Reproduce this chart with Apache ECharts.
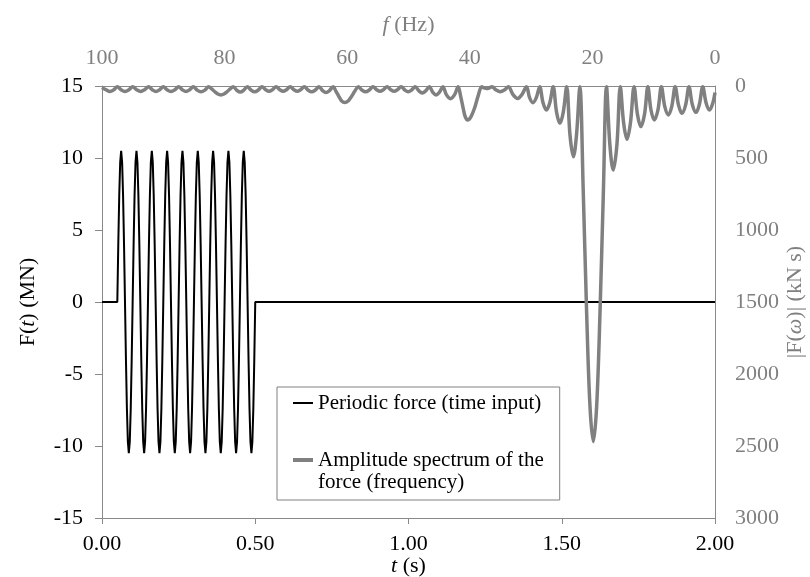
<!DOCTYPE html>
<html><head><meta charset="utf-8">
<script src="https://cdn.jsdelivr.net/npm/echarts@6/dist/echarts.min.js"></script>
<style>html,body{margin:0;padding:0;background:#fff}#c{width:810px;height:577px}</style>
</head><body><div id="c"></div>
<script>
// Time input: periodic force F(t) in MN
const timeS = [0,
 0.05,0.053125,0.05625,0.059375,0.0625,0.065625,0.06875,0.071875,0.075,0.078125,0.08125,0.084375,0.0875,0.090625,0.09375,0.096875,
 0.1,0.103125,0.10625,0.109375,0.1125,0.115625,0.11875,0.121875,0.125,0.128125,0.13125,0.134375,0.1375,0.140625,0.14375,0.146875,
 0.15,0.153125,0.15625,0.159375,0.1625,0.165625,0.16875,0.171875,0.175,0.178125,0.18125,0.184375,0.1875,0.190625,0.19375,0.196875,
 0.2,0.203125,0.20625,0.209375,0.2125,0.215625,0.21875,0.221875,0.225,0.228125,0.23125,0.234375,0.2375,0.240625,0.24375,0.246875,
 0.25,0.253125,0.25625,0.259375,0.2625,0.265625,0.26875,0.271875,0.275,0.278125,0.28125,0.284375,0.2875,0.290625,0.29375,0.296875,
 0.3,0.303125,0.30625,0.309375,0.3125,0.315625,0.31875,0.321875,0.325,0.328125,0.33125,0.334375,0.3375,0.340625,0.34375,0.346875,
 0.35,0.353125,0.35625,0.359375,0.3625,0.365625,0.36875,0.371875,0.375,0.378125,0.38125,0.384375,0.3875,0.390625,0.39375,0.396875,
 0.4,0.403125,0.40625,0.409375,0.4125,0.415625,0.41875,0.421875,0.425,0.428125,0.43125,0.434375,0.4375,0.440625,0.44375,0.446875,
 0.45,0.453125,0.45625,0.459375,0.4625,0.465625,0.46875,0.471875,0.475,0.478125,0.48125,0.484375,0.4875,0.490625,0.49375,0.496875,
 0.5, 2];
const forceMN = [0,
 0,4.0,7.4,9.7,10.5,9.7,7.4,4.0,0,-4.0,-7.4,-9.7,-10.5,-9.7,-7.4,-4.0,
 0,4.0,7.4,9.7,10.5,9.7,7.4,4.0,0,-4.0,-7.4,-9.7,-10.5,-9.7,-7.4,-4.0,
 0,4.0,7.4,9.7,10.5,9.7,7.4,4.0,0,-4.0,-7.4,-9.7,-10.5,-9.7,-7.4,-4.0,
 0,4.0,7.4,9.7,10.5,9.7,7.4,4.0,0,-4.0,-7.4,-9.7,-10.5,-9.7,-7.4,-4.0,
 0,4.0,7.4,9.7,10.5,9.7,7.4,4.0,0,-4.0,-7.4,-9.7,-10.5,-9.7,-7.4,-4.0,
 0,4.0,7.4,9.7,10.5,9.7,7.4,4.0,0,-4.0,-7.4,-9.7,-10.5,-9.7,-7.4,-4.0,
 0,4.0,7.4,9.7,10.5,9.7,7.4,4.0,0,-4.0,-7.4,-9.7,-10.5,-9.7,-7.4,-4.0,
 0,4.0,7.4,9.7,10.5,9.7,7.4,4.0,0,-4.0,-7.4,-9.7,-10.5,-9.7,-7.4,-4.0,
 0,4.0,7.4,9.7,10.5,9.7,7.4,4.0,0,-4.0,-7.4,-9.7,-10.5,-9.7,-7.4,-4.0,
 0, 0];

// Frequency output: amplitude spectrum |F(w)| in kN s, [f (Hz), value]
const spectrum = [
 [0,45],[0.35,118],[0.9,167],[1.45,118],[2.0,5],
 [2.55,128],[3.1,183],[3.7,128],[4.25,5],
 [4.8,133],[5.4,190],[5.95,133],[6.5,5],
 [7.05,141],[7.6,201],[8.2,141],[8.75,5],
 [9.3,165],[9.9,236],[10.45,165],[10.95,5],
 [11.5,197],[12.1,282],[12.65,197],[13.2,5],
 [13.8,259],[14.35,370],[14.9,259],[15.45,5],
 [16.0,408],[16.6,583],[17.15,408],[17.7,5],
 [18.2,720],[18.75,1560],[19.3,2220],[19.85,2470],[20.4,2220],[20.95,1560],[21.5,720],[22.05,5],
 [22.6,344],[23.1,491],[23.65,344],[24.2,5],
 [24.75,181],[25.3,259],[25.85,181],[26.4,5],
 [26.95,117],[27.5,167],[28.05,117],[28.6,5],
 [29.15,81],[29.7,116],[30.25,81],[30.75,5],
 [31.5,60],[32.2,86],[32.95,60],[33.7,5],
 [34.35,28],[35.05,40],[35.7,28],[36.4,5],
 [36.8,13],[37.25,18],[37.7,13],[38.05,5],
 [38.65,70],[39.2,150],[39.8,212],[40.35,236],[40.75,212],[41.1,150],[41.5,70],[41.9,5],
 [42.5,62],[43.15,88],[43.8,62],[44.4,5],
 [44.95,43],[45.5,62],[46.05,43],[46.6,5],
 [47.2,34],[47.75,48],[48.3,34],[48.9,5],
 [49.5,28],[50.05,40],[50.6,28],[51.2,5],
 [51.8,26],[52.35,37],[52.9,26],[53.5,5],
 [54.1,26],[54.65,37],[55.2,26],[55.8,5],
 [56.4,28],[57.0,40],[57.6,28],[58.2,5],
 [58.75,35],[59.3,73],[59.85,104],[60.4,115],[60.9,104],[61.35,73],[61.85,35],[62.3,5],
 [62.9,32],[63.45,45],[64.0,32],[64.6,5],
 [65.2,28],[65.8,40],[66.4,28],[67.0,5],
 [67.6,26],[68.15,37],[68.7,26],[69.3,5],
 [69.9,26],[70.45,37],[71.0,26],[71.6,5],
 [72.2,26],[72.75,37],[73.3,26],[73.9,5],
 [74.5,28],[75.1,40],[75.7,28],[76.3,5],
 [76.9,30],[77.45,42],[78.0,30],[78.6,5],
 [79.1,20],[79.6,40],[80.1,56],[80.6,62],[81.1,56],[81.6,40],[82.1,20],[82.6,5],
 [83.2,28],[83.85,40],[84.5,28],[85.1,5],
 [85.7,26],[86.3,38],[86.9,26],[87.5,5],
 [88.1,26],[88.75,38],[89.4,26],[90.0,5],
 [90.6,26],[91.2,38],[91.8,26],[92.4,5],
 [93.05,26],[93.7,38],[94.35,26],[95.0,5],
 [95.6,26],[96.25,38],[96.9,26],[97.5,5],
 [98.1,27],[98.7,38],[99.3,27],[100,10]
];

const seriesNames = ['Periodic force (time input)', 'Amplitude spectrum of the force (frequency)'];
const legendLabels = ['Periodic force (time input)', '\nAmplitude spectrum of the\nforce (frequency)'];
const timeRange = [0, 2, 0.5];
const forceRange = [-15, 15, 5];
const freqRange = [0, 100, 20];
const ampRange = [0, 3000, 500];

const FONT = '"Liberation Serif", "Times New Roman", serif';
const GRAY = '#808080';
const AXIS = '#898989';

function nameStyle(color) {
  return {fontFamily: FONT, fontSize: 22, color: color,
    rich: {i: {fontFamily: FONT, fontSize: 22, fontStyle: 'italic', color: color}}};
}

const chart = echarts.init(document.getElementById('c'), null, {renderer: 'canvas'});
chart.setOption({
  animation: false,
  backgroundColor: '#fff',
  grid: {left: 102, right: 95, top: 86, bottom: 59, containLabel: false, outerBoundsMode: 'none'},
  legend: {
    orient: 'vertical', left: 277, top: 387,
    padding: [5, 16, 7, 16], itemGap: 13, itemWidth: 20, itemHeight: 10,
    borderColor: GRAY, borderWidth: 1, backgroundColor: '#fff', borderRadius: 0,
    selectedMode: false, symbolKeepAspect: true,
    textStyle: {fontFamily: FONT, fontSize: 21, color: '#000', lineHeight: 22},
    data: [
      {name: seriesNames[0], icon: 'path://M0,0L20,0L20,2L0,2Z'},
      {name: seriesNames[1], icon: 'path://M0,0L20,0L20,4L0,4Z'}
    ],
    formatter: function (n) { return legendLabels[seriesNames.indexOf(n)]; }
  },
  xAxis: [
    {type: 'value', position: 'bottom', min: timeRange[0], max: timeRange[1], interval: timeRange[2],
     name: '{i|t} (s)', nameLocation: 'middle', nameGap: 37, nameMoveOverlap: false, nameTextStyle: nameStyle('#000'),
     axisLine: {show: true, onZero: false, lineStyle: {color: AXIS, width: 1}},
     axisTick: {show: true, inside: false, length: 6, lineStyle: {color: AXIS}},
     axisLabel: {fontFamily: FONT, fontSize: 22, color: '#000', margin: 15, showMinLabel: true, showMaxLabel: true,
       formatter: function (v) { return v.toFixed(2); }},
     splitLine: {show: false}},
    {type: 'value', position: 'top', min: freqRange[0], max: freqRange[1], interval: freqRange[2], inverse: true,
     name: '{i|f} (Hz)', nameLocation: 'middle', nameGap: 50, nameMoveOverlap: false, nameTextStyle: nameStyle(GRAY),
     axisLine: {show: true, onZero: false, lineStyle: {color: AXIS, width: 1}},
     axisTick: {show: false},
     axisLabel: {fontFamily: FONT, fontSize: 22, color: GRAY, margin: 17, showMinLabel: true, showMaxLabel: true,
       formatter: function (v) { return String(v); }},
     splitLine: {show: false}}
  ],
  yAxis: [
    {type: 'value', position: 'left', min: forceRange[0], max: forceRange[1], interval: forceRange[2],
     name: 'F({i|t}) (MN)', nameLocation: 'middle', nameGap: 63, nameMoveOverlap: false, nameTextStyle: nameStyle('#000'),
     axisLine: {show: true, onZero: false, lineStyle: {color: AXIS, width: 1}},
     axisTick: {show: true, inside: false, length: 7, lineStyle: {color: AXIS}},
     axisLabel: {fontFamily: FONT, fontSize: 22, color: '#000', margin: 19, showMinLabel: true, showMaxLabel: true,
       formatter: function (v) { return String(v); }},
     splitLine: {show: false}},
    {type: 'value', position: 'right', min: ampRange[0], max: ampRange[1], interval: ampRange[2], inverse: true,
     name: '|F({i|ω})| (kN s)', nameLocation: 'middle', nameGap: 69, nameMoveOverlap: false, nameTextStyle: nameStyle(GRAY),
     axisLine: {show: true, onZero: false, lineStyle: {color: AXIS, width: 1}},
     axisTick: {show: false},
     axisLabel: {fontFamily: FONT, fontSize: 22, color: GRAY, margin: 20, showMinLabel: true, showMaxLabel: true,
       formatter: function (v) { return String(v); }},
     splitLine: {show: false}}
  ],
  series: [
    {type: 'line', name: seriesNames[0], xAxisIndex: 0, yAxisIndex: 0,
     data: timeS.map(function (t, i) { return [t, forceMN[i]]; }),
     symbol: 'none', smooth: false, lineStyle: {color: '#000', width: 2}, itemStyle: {color: '#000'}, z: 2},
    {type: 'line', name: seriesNames[1], xAxisIndex: 1, yAxisIndex: 1,
     data: spectrum, symbol: 'none', smooth: 0.35,
     lineStyle: {color: GRAY, width: 3.5}, itemStyle: {color: GRAY}, z: 3}
  ]
});
</script></body></html>
